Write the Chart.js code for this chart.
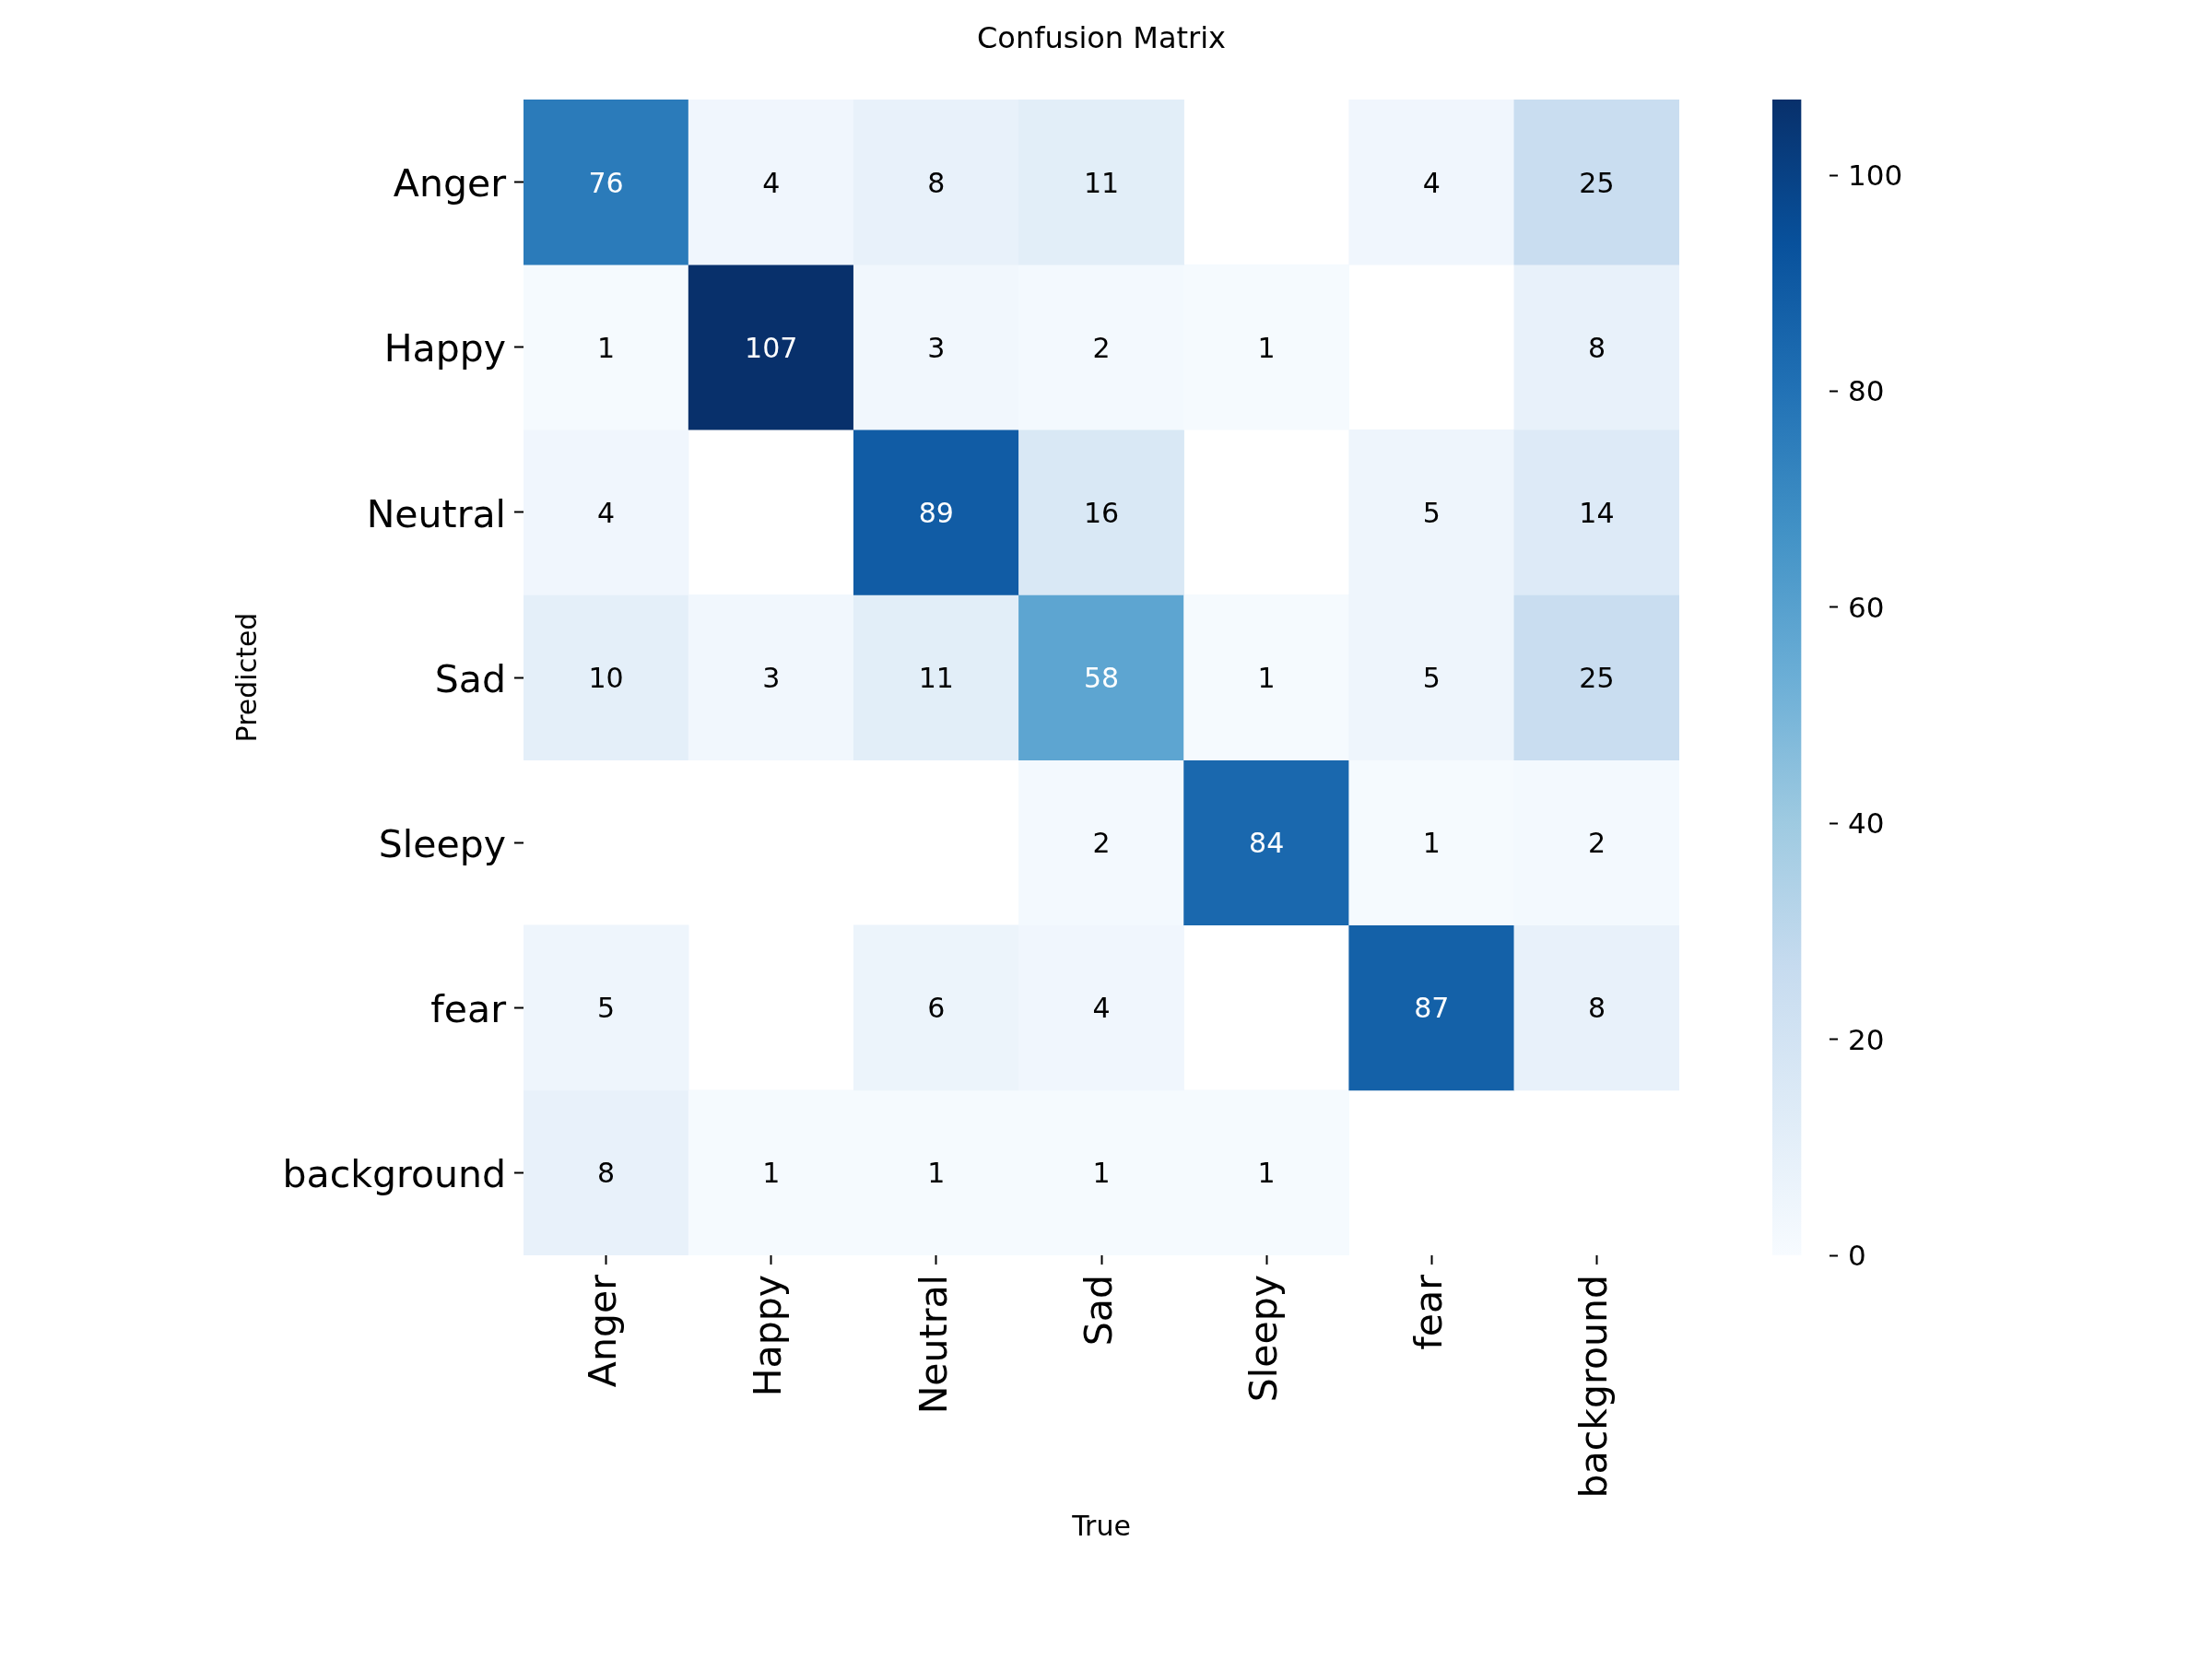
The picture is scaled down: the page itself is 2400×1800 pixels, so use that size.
<!DOCTYPE html>
<html>
<head>
<meta charset="utf-8">
<script src="https://cdn.jsdelivr.net/npm/chart.js@4"></script>
<style>
  body { margin: 0; background: #fff; }
  #wrap { position: relative; width: 2400px; height: 1800px; }
  #cm { position: absolute; left: 0; top: 0; }
  #cbar { position: absolute; left: 1923px; top: 0; }
</style>
</head>
<body>
<div id="wrap">
  <canvas id="cm" width="2400" height="1800"></canvas>
  <canvas id="cbar" width="200" height="1800"></canvas>
</div>
<script>
// predicted (rows) x true (columns); 0 = empty cell
const trueLabels = ['Anger', 'Happy', 'Neutral', 'Sad', 'Sleepy', 'fear', 'background'];
const predLabels = ['Anger', 'Happy', 'Neutral', 'Sad', 'Sleepy', 'fear', 'background'];

const angerRow      = [76, 4, 8, 11, 0, 4, 25];
const happyRow      = [1, 107, 3, 2, 1, 0, 8];
const neutralRow    = [4, 0, 89, 16, 0, 5, 14];
const sadRow        = [10, 3, 11, 58, 1, 5, 25];
const sleepyRow     = [0, 0, 0, 2, 84, 1, 2];
const fearRow       = [5, 0, 6, 4, 0, 87, 8];
const backgroundRow = [8, 1, 1, 1, 1, 0, 0];

const rows = [angerRow, happyRow, neutralRow, sadRow, sleepyRow, fearRow, backgroundRow];
const cbarTicks = [0, 20, 40, 60, 80, 100];

const vmax = Math.max(...rows.flat());
const textDark = '#000000';
const font = 'DejaVu Sans';

// matplotlib "Blues" anchor colours
const blues = [
    [247, 251, 255], [222, 235, 247], [198, 219, 239], [158, 202, 225], [107, 174, 214],
    [66, 146, 198], [33, 113, 181], [8, 81, 156], [8, 48, 107]
];

function bluesRgb(t) {
    t = Math.min(1, Math.max(0, t));
    const pos = t * (blues.length - 1);
    const i = Math.min(Math.floor(pos), blues.length - 2);
    const f = pos - i;
    return blues[i].map((c, k) => c + (blues[i + 1][k] - c) * f);
}

const toCss = rgb => `rgb(${rgb.map(Math.round).join(',')})`;

function luminance(rgb) {
    const lin = rgb.map(c => {
        c /= 255;
        return c <= 0.03928 ? c / 12.92 : Math.pow((c + 0.055) / 1.055, 2.4);
    });
    return 0.2126 * lin[0] + 0.7152 * lin[1] + 0.0722 * lin[2];
}

Chart.defaults.font.family = font;
Chart.defaults.color = textDark;

const datasets = rows.map((row, r) => ({
    label: predLabels[r],
    data: row.map(v => v > 0 ? [r, r + 1] : null),
    counts: row,
    backgroundColor: row.map(v => toCss(bluesRgb(v / vmax))),
    borderWidth: 0,
    barPercentage: 1,
    categoryPercentage: 1,
    grouped: false
}));

const annotate = {
    id: 'annotate',
    afterDatasetsDraw(chart) {
        const ctx = chart.ctx;
        ctx.save();
        ctx.font = `30px "${font}"`;
        ctx.textAlign = 'center';
        ctx.textBaseline = 'alphabetic';
        chart.data.datasets.forEach((ds, d) => {
            chart.getDatasetMeta(d).data.forEach((el, c) => {
                const v = ds.counts[c];
                if (!v) return;
                const lum = luminance(bluesRgb(v / vmax));
                ctx.fillStyle = lum < 0.408 ? '#ffffff' : '#000000';
                const cy = (el.y + el.base) / 2;
                ctx.fillText(String(v), el.x, cy + 11);
            });
        });
        ctx.restore();
    }
};

const tickGrid = {
    display: true,
    drawOnChartArea: false,
    drawTicks: true,
    tickLength: 10,
    tickWidth: 2,
    tickColor: textDark
};

new Chart(document.getElementById('cm'), {
    type: 'bar',
    data: { labels: trueLabels, datasets },
    options: {
        responsive: false,
        animation: false,
        devicePixelRatio: 1,
        layout: { padding: { left: 0, right: 578, top: 0, bottom: 0 } },
        plugins: {
            legend: { display: false },
            tooltip: { enabled: false },
            title: {
                display: true,
                text: 'Confusion Matrix',
                fullSize: false,
                color: textDark,
                font: { size: 32, weight: 'normal' },
                padding: { top: 24, bottom: 45.6 }
            }
        },
        scales: {
            x: {
                type: 'category',
                offset: true,
                grid: { ...tickGrid, offset: false },
                border: { display: false },
                ticks: { autoSkip: false, minRotation: 90, maxRotation: 90, padding: 11, color: textDark, font: { size: 41 } },
                title: { display: true, text: 'True', color: textDark, font: { size: 30 }, padding: { top: 0, bottom: 124 } },
                afterFit: s => { s.height = 438; }
            },
            y: {
                type: 'linear',
                min: 0,
                max: 7,
                reverse: true,
                grid: tickGrid,
                border: { display: false },
                afterBuildTicks: s => { s.ticks = predLabels.map((_, i) => ({ value: i + 0.5 })); },
                ticks: { padding: 9, labelOffset: 5, color: textDark, font: { size: 41 }, callback: v => predLabels[Math.floor(v)] },
                title: { display: true, text: 'Predicted', color: textDark, font: { size: 30 }, padding: { top: 252, bottom: 0 } },
                afterFit: s => { s.width = 568; }
            }
        }
    },
    plugins: [annotate]
});

// colour bar
new Chart(document.getElementById('cbar'), {
    type: 'bar',
    data: {
        labels: ['scale'],
        datasets: [{
            data: [[0, vmax]],
            borderWidth: 0,
            barPercentage: 1,
            categoryPercentage: 1,
            backgroundColor: ctx => {
                const area = ctx.chart.chartArea;
                if (!area) return null;
                const g = ctx.chart.ctx.createLinearGradient(0, area.bottom, 0, area.top);
                blues.forEach((c, i) => g.addColorStop(i / (blues.length - 1), toCss(c)));
                return g;
            }
        }]
    },
    options: {
        responsive: false,
        animation: false,
        devicePixelRatio: 1,
        layout: { padding: { left: 0, right: 0, top: 108, bottom: 438 } },
        plugins: { legend: { display: false }, tooltip: { enabled: false } },
        scales: {
            x: { display: false, offset: false },
            y: {
                position: 'right',
                min: 0,
                max: vmax,
                grid: { ...tickGrid, tickLength: 9 },
                border: { display: false },
                afterBuildTicks: s => { s.ticks = cbarTicks.map(v => ({ value: v })); },
                ticks: { padding: 11, labelOffset: 3, color: textDark, font: { size: 31 } },
                afterFit: s => { s.width = 138; }
            }
        }
    }
});
</script>
</body>
</html>
